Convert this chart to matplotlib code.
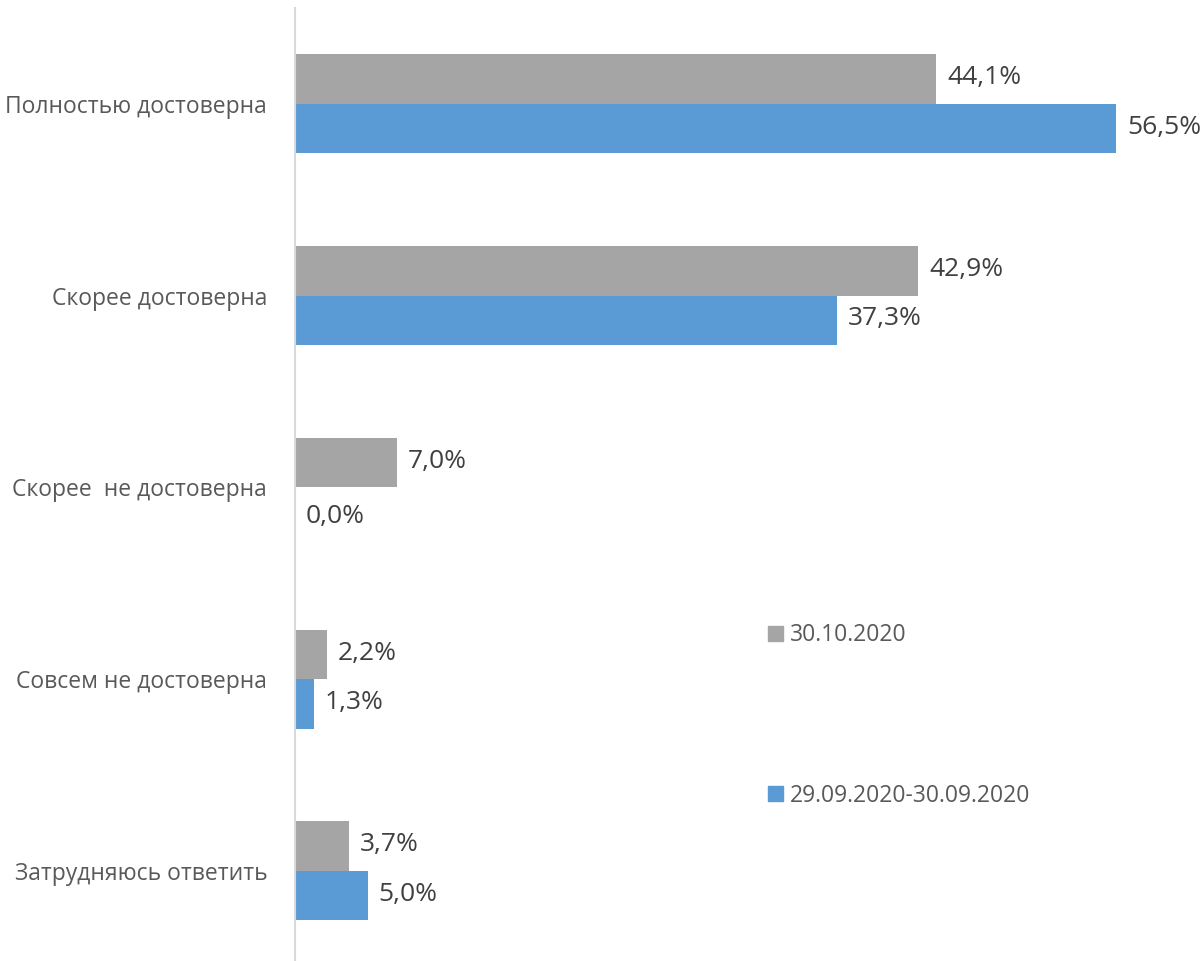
import matplotlib
matplotlib.use("Agg")
import matplotlib.pyplot as plt
from matplotlib.patches import Patch

plt.rcParams['font.family'] = ['Open Sans', 'DejaVu Sans']

categories = ["Полностью достоверна", "Скорее достоверна", "Скорее  не достоверна",
              "Совсем не достоверна", "Затрудняюсь ответить"]
series_oct = [44.1, 42.9, 7.0, 2.2, 3.7]
series_sep = [56.5, 37.3, 0.0, 1.3, 5.0]
label_oct = "30.10.2020"
label_sep = "29.09.2020-30.09.2020"

c_grey = "#a5a5a5"
c_blue = "#5b9bd5"

W, H = 1202, 961
fig = plt.figure(figsize=(W / 100, H / 100), dpi=100)
ax = fig.add_axes([295 / W, 0, (W - 295) / W, (H - 8) / H])

bh = 0.258
ys = list(range(len(categories)))
ax.barh([y - bh / 2 for y in ys], series_oct, height=bh, color=c_grey, label=label_oct)
ax.barh([y + bh / 2 for y in ys], series_sep, height=bh, color=c_blue, label=label_sep)

ppu = 14.53  # pixels per percent
ax.set_xlim(0, (W - 295) / ppu)
ax.set_ylim(4.47, -0.5)

def fmt(v):
    return f"{v:.1f}%".replace(".", ",")

for y, v in zip(ys, series_oct):
    ax.annotate(fmt(v), (v, y - bh / 2), xytext=(8, 1), textcoords="offset points",
                va="center", ha="left", fontsize=19, color="#404040")
for y, v in zip(ys, series_sep):
    ax.annotate(fmt(v), (v, y + bh / 2), xytext=(8, -3 if v == 0 else 1),
                textcoords="offset points", va="center", ha="left", fontsize=19, color="#404040")

ax.set_yticks(ys)
ax.set_yticklabels(categories, fontsize=16.5, color="#595959")
ax.tick_params(axis="y", length=0, pad=20)
ax.set_xticks([])
for s in ["top", "right", "bottom"]:
    ax.spines[s].set_visible(False)
ax.spines["left"].set_color("#d9d9d9")
ax.spines["left"].set_linewidth(1.5)

handles = [Patch(color=c_grey, label=label_oct), Patch(color=c_blue, label=label_sep)]
fig.legend(handles=handles, loc="upper left", bbox_to_anchor=(757 / W, 1 - 612 / H),
           frameon=False, fontsize=16.5, labelcolor="#595959", handlelength=0.65,
           handleheight=0.65, handletextpad=0.3, labelspacing=5.95, borderpad=0)

fig.savefig("out.png", dpi=100, facecolor="white")
